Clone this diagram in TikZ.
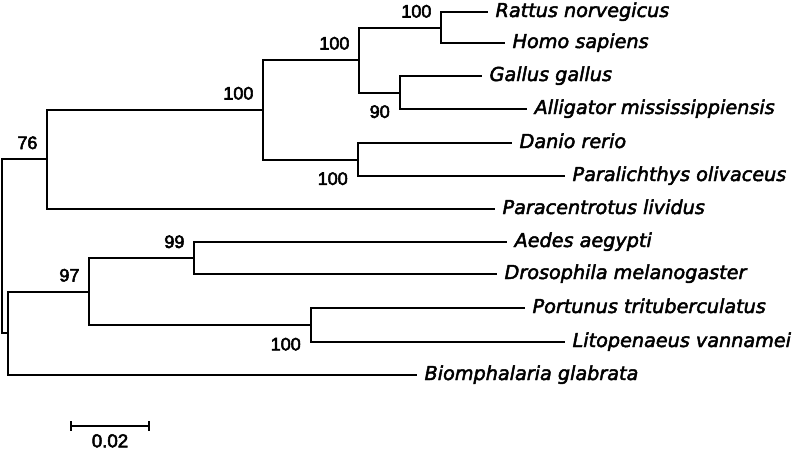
\documentclass[tikz,border=0pt]{standalone}
\usepackage{fontspec}
\setmainfont{Liberation Sans}
\newfontfamily\taxonfont{DejaVu Sans}[ItalicFeatures={FakeBold=2.5}]
\newfontfamily\bootfont{Liberation Sans}[UprightFeatures={FakeBold=3}]
\usepackage{tikz}
\usetikzlibrary{positioning}

\begin{document}
\begin{tikzpicture}[
    x=0.75pt, y=-0.75pt,
    branch/.style={line width=1.5pt},
    taxon/.style={anchor=west, inner xsep=5.5pt, inner ysep=0pt, text height=10pt, text depth=2.5pt,
                  font=\taxonfont\itshape\fontsize{14.4}{16}\selectfont},
    bootup/.style={anchor=base east, inner sep=0pt, xshift=-7pt, yshift=7.5pt,
                   font=\bootfont\fontsize{13.5}{16}\selectfont},
    bootdown/.style={anchor=north east, inner sep=0pt, xshift=-7.5pt, yshift=-9.4pt,
                     font=\bootfont\fontsize{13.5}{16}\selectfont},
]
\useasboundingbox (0,0) rectangle (793,450);

% Internal nodes
\coordinate (root) at (2,246);
\coordinate (nA) at (47,159);
\coordinate (nB) at (263,109.5);
\coordinate (nC) at (359,59.5);
\coordinate (nD) at (441,27.5);
\coordinate (nE) at (400,92.5);
\coordinate (nF) at (358,159.5);
\coordinate (nG) at (8,333);
\coordinate (nH) at (89,291.5);
\coordinate (nI) at (194,258);
\coordinate (nJ) at (311,325);

% Leaves, upper clade
\node[taxon] (rat) at (488,12) {Rattus norvegicus};
\node[taxon] (homo) at (505,43) {Homo sapiens};
\node[taxon] (gallus) at (482,76) {Gallus gallus};
\node[taxon] (allig) at (527,109) {Alligator mississippiensis};
\node[taxon] (danio) at (512,143) {Danio rerio};
\node[taxon] (paral) at (565,176) {Paralichthys olivaceus};
\node[taxon] (parac) at (495,209) {Paracentrotus lividus};

% Leaves, lower clade
\node[taxon] (aedes) at (507,242) {Aedes aegypti};
\node[taxon] (droso) at (497,274) {Drosophila melanogaster};
\node[taxon] (portu) at (525,308) {Portunus trituberculatus};
\node[taxon] (litop) at (565,342) {Litopenaeus vannamei};
\node[taxon] (bioph) at (417,375) {Biomphalaria glabrata};

% Branches
\draw[branch] (root) |- (nA);
\draw[branch] (root) |- (nG);
\draw[branch] (nA) |- (nB);
\draw[branch] (nA) |- (parac.west);
\draw[branch] (nB) |- (nC);
\draw[branch] (nB) |- (nF);
\draw[branch] (nC) |- (nD);
\draw[branch] (nC) |- (nE);
\draw[branch] (nD) |- (rat.west);
\draw[branch] (nD) |- (homo.west);
\draw[branch] (nE) |- (gallus.west);
\draw[branch] (nE) |- (allig.west);
\draw[branch] (nF) |- (danio.west);
\draw[branch] (nF) |- (paral.west);
\draw[branch] (nG) |- (nH);
\draw[branch] (nG) |- (bioph.west);
\draw[branch] (nH) |- (nI);
\draw[branch] (nH) |- (nJ);
\draw[branch] (nI) |- (aedes.west);
\draw[branch] (nI) |- (droso.west);
\draw[branch] (nJ) |- (portu.west);
\draw[branch] (nJ) |- (litop.west);

% Bootstrap values
\node[bootup] (bsA) at (nA) {76};
\node[bootup] (bsB) at (nB) {100};
\node[bootup] (bsC) at (nC) {100};
\node[bootup] (bsD) at (nD) {100};
\node[bootdown] (bsE) at (nE) {90};
\node[bootdown] (bsF) at (nF) {100};
\node[bootup] (bsH) at (nH) {97};
\node[bootup] (bsI) at (nI) {99};
\node[bootdown] (bsJ) at (nJ) {100};

% Scale bar
\coordinate (sbL) at (71,426);
\coordinate (sbR) at (149,426);
\coordinate (sbM) at (110,426);
\draw[branch] (sbL) -- (sbR);
\draw[branch] (sbL) ++(0,-5) -- ++(0,10);
\draw[branch] (sbR) ++(0,-5) -- ++(0,10);
\node[below=6pt of sbM, inner sep=0pt, font=\bootfont\fontsize{14}{16}\selectfont] (sbT) {0.02};
\end{tikzpicture}
\end{document}
